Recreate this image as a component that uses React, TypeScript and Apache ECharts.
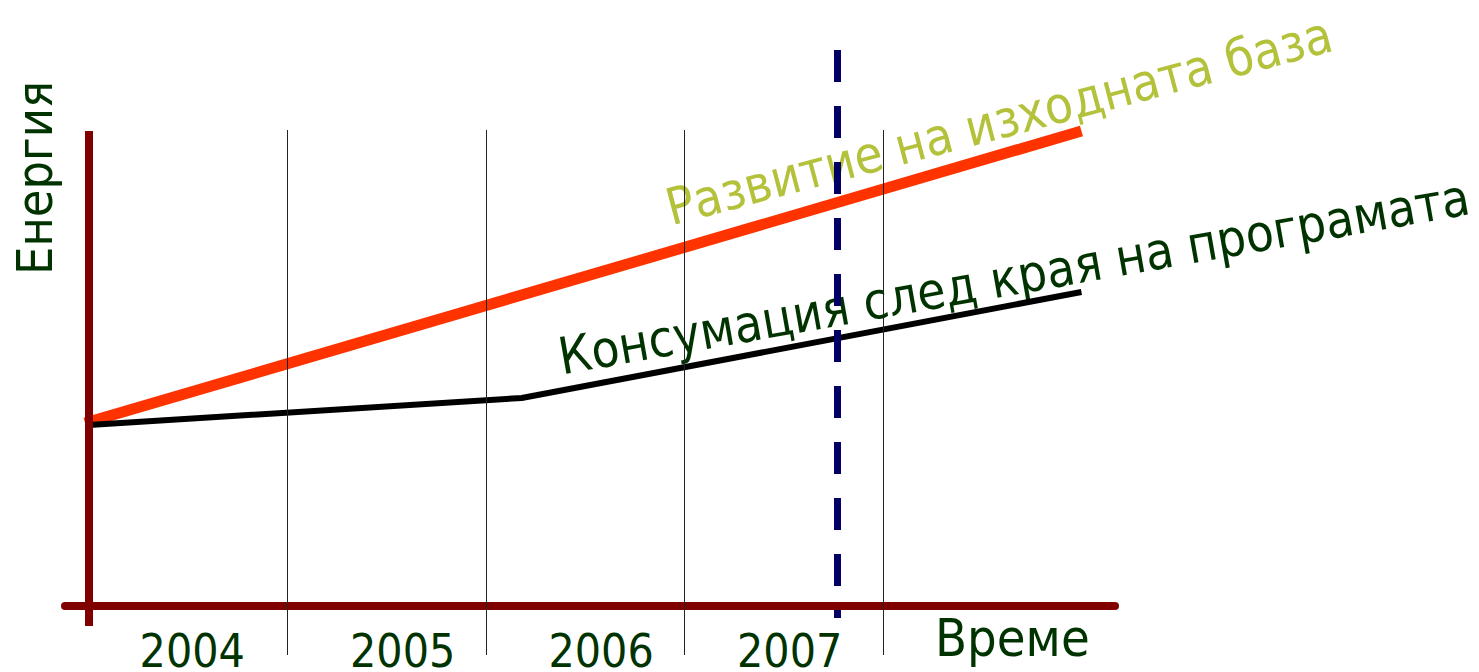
import React, { useEffect, useRef } from "react";
import * as echarts from "echarts";

// ---- data ----
const gridYears = [2005, 2006, 2007, 2008];
const tickLabels = ["2004", "2005", "2006", "2007"];
const tickLabelCenters = [2004.52, 2005.58, 2006.58, 2007.53];
const timeAxisName = "Време";
const energyAxisName = "Енергия";
const baselineName = "Развитие на изходната база";
const consumptionName = "Консумация след края на програмата";
const baselineData: [number, number][] = [
  [2003.98, 183],
  [2009.0, 475],
];
const consumptionData: [number, number][] = [
  [2004.0, 181],
  [2006.18, 208],
  [2009.0, 314],
];
const programEndYear = 2007.77;

// ---- layout / style ----
const FONT = "'DejaVu Sans Condensed', 'DejaVu Sans', sans-serif";
const X_MIN = 2003.879;
const X_MAX = 2009.169;
const Y_MIN = -49;
const Y_MAX = 556;
const GRID_TOP_VAL = 476;
const YAXIS_TOP = 475;
const YAXIS_BOTTOM = -20;
const DASH_BOTTOM = -12;
const DARK_RED = "#800000";
const TEXT_GREEN = "#003300";

export default function App() {
  const ref = useRef<HTMLDivElement>(null);
  useEffect(() => {
    document.body.style.margin = "0";
    if (!ref.current) return;
    const chart = echarts.init(ref.current, undefined, { renderer: "svg" });
    const gridLines = gridYears.map((y) => [
      { coord: [y, GRID_TOP_VAL], lineStyle: { color: "#222", width: 1, type: "solid" } },
      { coord: [y, Y_MIN] },
    ]);
    const axisYLine = [
      { coord: [2004, YAXIS_TOP], lineStyle: { color: DARK_RED, width: 8, type: "solid" } },
      { coord: [2004, YAXIS_BOTTOM] },
    ];
    const dashLine = [
      {
        coord: [programEndYear, Y_MAX],
        lineStyle: { color: "#000066", width: 7, type: [32, 24] },
      },
      { coord: [programEndYear, DASH_BOTTOM] },
    ];
    chart.setOption({
      animation: false,
      grid: {
        left: 65,
        right: 364,
        top: 50,
        bottom: 17,
        containLabel: false,
        outerBoundsMode: "none",
      },
      xAxis: {
        type: "value",
        min: X_MIN,
        max: X_MAX,
        axisLine: { show: true, onZero: true, lineStyle: { color: DARK_RED, width: 8 } },
        axisTick: { show: false },
        splitLine: { show: false },
        axisLabel: {
          customValues: tickLabelCenters,
          formatter: (v: number) => tickLabels[Math.floor(v) - 2004] ?? "",
          color: TEXT_GREEN,
          fontSize: 46,
          lineHeight: 46,
          fontFamily: FONT,
          margin: -27,
        },
        name: timeAxisName,
        nameLocation: "end",
        nameGap: -180,
        nameTextStyle: {
          color: TEXT_GREEN,
          fontSize: 52,
          lineHeight: 52,
          fontFamily: FONT,
          align: "left",
          verticalAlign: "top",
          padding: [6, 0, 0, 0],
        },
      },
      yAxis: {
        type: "value",
        min: Y_MIN,
        max: Y_MAX,
        axisLine: { show: false },
        axisTick: { show: false },
        axisLabel: { show: false },
        splitLine: { show: false },
      },
      series: [
        {
          type: "line",
          name: "grid",
          data: [],
          silent: true,
          z: 1,
          markLine: {
            silent: true,
            symbol: ["none", "none"],
            label: { show: false },
            data: [...gridLines, axisYLine],
          },
        },
        {
          type: "line",
          name: baselineName,
          data: baselineData,
          showSymbol: false,
          symbol: "none",
          z: 3,
          lineStyle: { color: "#FF3300", width: 11, cap: "butt" },
        },
        {
          type: "line",
          name: consumptionName,
          data: consumptionData,
          showSymbol: false,
          symbol: "none",
          z: 3,
          lineStyle: { color: "#000000", width: 6 },
          markLine: {
            silent: true,
            symbol: ["none", "none"],
            label: { show: false },
            z: 5,
            data: [dashLine],
          },
        },
      ],
      graphic: [
        {
          type: "text",
          x: 35,
          y: 178,
          rotation: Math.PI / 2,
          style: {
            text: energyAxisName,
            fill: TEXT_GREEN,
            font: `50px ${FONT}`,
            textAlign: "center",
            textVerticalAlign: "middle",
          },
        },
        {
          type: "text",
          x: 999,
          y: 121,
          rotation: (14.8 * Math.PI) / 180,
          style: {
            text: baselineName,
            fill: "#B3C13B",
            font: `51px ${FONT}`,
            textAlign: "center",
            textVerticalAlign: "middle",
          },
        },
        {
          type: "text",
          x: 1014,
          y: 277,
          rotation: (10 * Math.PI) / 180,
          style: {
            text: consumptionName,
            fill: TEXT_GREEN,
            font: `51px ${FONT}`,
            textAlign: "center",
            textVerticalAlign: "middle",
          },
        },
      ],
    });
    return () => chart.dispose();
  }, []);
  return <div ref={ref} style={{ width: 1479, height: 672 }} />;
}
